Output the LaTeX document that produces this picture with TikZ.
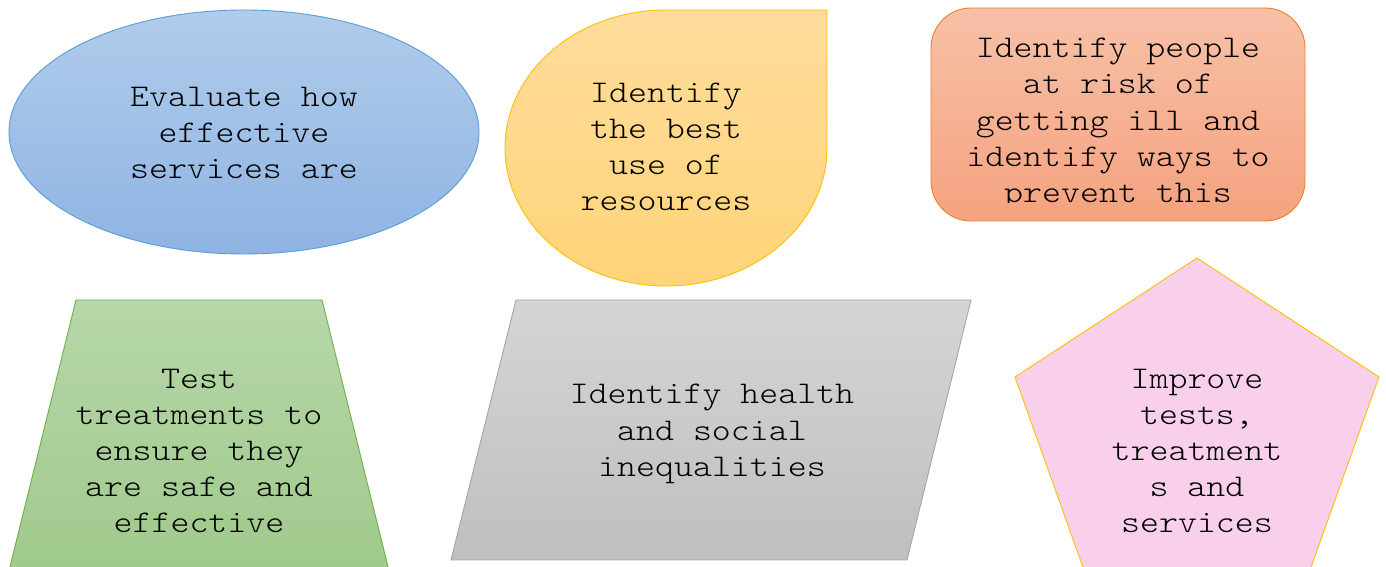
\documentclass[tikz,border=0pt]{standalone}
\usepackage{fontspec}
\setmonofont[FakeStretch=1.143]{Latin Modern Mono Light}
\usepackage{tikz}

\definecolor{blueTop}{HTML}{B1CCEB}
\definecolor{blueBot}{HTML}{8EB4E3}
\definecolor{blueLine}{HTML}{5B9BD5}
\definecolor{goldTop}{HTML}{FFDC9C}
\definecolor{goldBot}{HTML}{FFD478}
\definecolor{goldLine}{HTML}{FFC000}
\definecolor{orangeTop}{HTML}{F7C1A7}
\definecolor{orangeBot}{HTML}{F5A27F}
\definecolor{orangeLine}{HTML}{ED7D31}
\definecolor{greenTop}{HTML}{B6D7A9}
\definecolor{greenBot}{HTML}{9FC98A}
\definecolor{greenLine}{HTML}{70AD47}
\definecolor{grayTop}{HTML}{D5D5D5}
\definecolor{grayBot}{HTML}{BFBFBF}
\definecolor{grayLine}{HTML}{A5A5A5}
\definecolor{pinkFill}{HTML}{F8D0EC}

\begin{document}
\begin{tikzpicture}[x=1pt,y=1pt,
  txt/.style={align=center,inner sep=0pt,text=black,
    font=\ttfamily\fontsize{31.6}{36.2}\selectfont},
  shp/.style={line width=0.9pt}]
\useasboundingbox (0,0) rectangle (1386,567);

\begin{scope}
\clip (0,0) rectangle (1386,567);

% top row
\draw[shp,draw=blueLine,top color=blueTop,bottom color=blueBot]
  (244,435) ellipse[x radius=235,y radius=122];
\draw[shp,draw=goldLine,top color=goldTop,bottom color=goldBot]
  (666,557) -- (827,557) -- (827,419)
  arc[start angle=0,end angle=-270,x radius=161,y radius=138] -- cycle;
\draw[shp,draw=orangeLine,top color=orangeTop,bottom color=orangeBot,rounded corners=40]
  (931,346) rectangle (1305,559);

% bottom row
\draw[shp,draw=greenLine,top color=greenTop,bottom color=greenBot]
  (76,267) -- (322,267) -- (393,-20) -- (5,-20) -- cycle;
\draw[shp,draw=grayLine,top color=grayTop,bottom color=grayBot]
  (516,267) -- (971,267) -- (907,7) -- (451,7) -- cycle;
\draw[shp,draw=goldLine,fill=pinkFill]
  (1197,309) -- (1379,190) -- (1304,-20) -- (1090,-20) -- (1015,190) -- cycle;

\node[txt] (evaluate) at (244,434) {Evaluate how\\effective\\services are};
\node[txt] (resources) at (666,420) {Identify\\the best\\use of\\resources};
\begin{scope}
\clip (931,364) rectangle (1305,559);
\node[txt] (risk) at (1118,443) {Identify people\\at risk of\\getting ill and\\identify ways to\\prevent this};
\end{scope}
\node[txt] (treatments) at (199,116) {Test\\treatments to\\ensure they\\are safe and\\effective};
\node[txt] (inequal) at (712,133) {Identify health\\and social\\inequalities};
\node[txt] (improve) at (1197,116) {Improve\\tests,\\treatment\\s and\\services};
\end{scope}
\end{tikzpicture}
\end{document}
